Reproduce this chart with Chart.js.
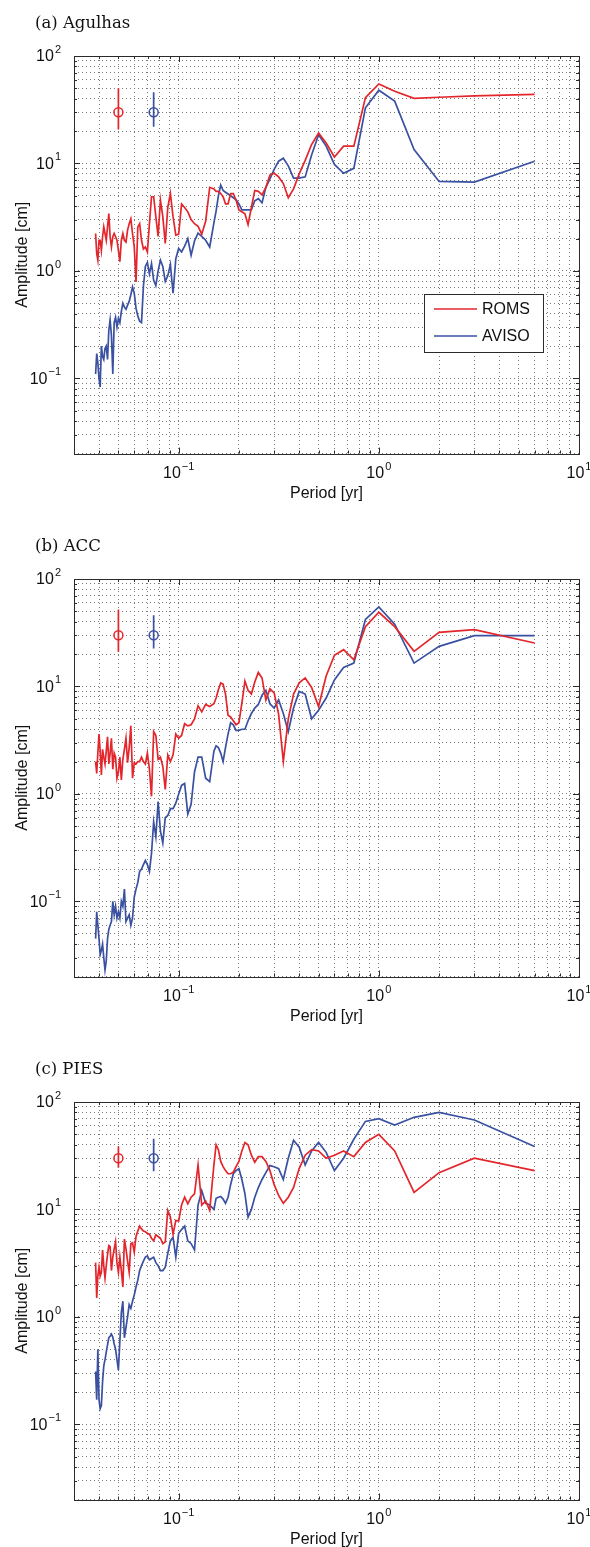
<!DOCTYPE html>
<html><head><meta charset="utf-8">
<script src="https://cdn.jsdelivr.net/npm/chart.js@4/dist/chart.umd.min.js"></script>
<style>
html,body{margin:0;padding:0;background:#fff;}
body{width:590px;height:1547px;position:relative;overflow:hidden;}
.panel{position:absolute;left:0;width:590px;height:505px;}
</style></head><body>
<div class="panel" style="top:0px"><canvas id="pa" width="590" height="505"></canvas></div>
<div class="panel" style="top:523px"><canvas id="pb" width="590" height="505"></canvas></div>
<div class="panel" style="top:1046px"><canvas id="pc" width="590" height="505"></canvas></div>
<script>
// ---- data: period [yr] (harmonics of a 6-yr record) ----
const periods = [6, 3, 2, 1.5, 1.2, 1, 0.8571, 0.75, 0.6667, 0.6,
 0.5455, 0.5, 0.4615, 0.4286, 0.4, 0.375, 0.3529, 0.3333, 0.3158, 0.3,
 0.2857, 0.2727, 0.2609, 0.25, 0.24, 0.2308, 0.2222, 0.2143, 0.2069, 0.2,
 0.1935, 0.1875, 0.1818, 0.1765, 0.1714, 0.1667, 0.1622, 0.1579, 0.1538, 0.15,
 0.1429, 0.1364, 0.1304, 0.125, 0.12, 0.1154, 0.1111, 0.1071, 0.1034, 0.1,
 0.09677, 0.09375, 0.09091, 0.08824, 0.08571, 0.08333, 0.08108, 0.07895, 0.07692, 0.075,
 0.07317, 0.07143, 0.06977, 0.06818, 0.06667, 0.06522, 0.06383, 0.0625, 0.06122, 0.06,
 0.05882, 0.05769, 0.0566, 0.05556, 0.05455, 0.05357, 0.05263, 0.05172, 0.05085, 0.05,
 0.04918, 0.04839, 0.04762, 0.04688, 0.04615, 0.04545, 0.04478, 0.04412, 0.04348, 0.04286,
 0.04225, 0.04167, 0.0411, 0.04054, 0.04, 0.03947, 0.03896, 0.03846];

const agulhasROMS = [44, 42.5, 41.3, 40.3, 47, 55, 41, 14.5, 14.5, 11.5,
 15.5, 19.2, 15, 10.7, 8.0, 5.8, 4.8, 6.5, 7.5, 8.1,
 7.8, 6.0, 5.1, 5.5, 5.6, 3.9, 2.7, 3.4, 3.55, 3.7,
 4.55, 5.25, 5.25, 4.2, 4.2, 4.9, 5.25, 5.5, 5.5, 5.8,
 6.0, 2.9, 2.2, 2.6, 2.75, 3.0, 3.55, 3.9, 4.2, 2.2,
 2.15, 3.2, 5.25, 3.9, 1.8, 3.2, 4.55, 2.1, 3.2, 4.9,
 4.9, 2.75, 1.5, 1.67, 1.6, 1.93, 2.75, 2.57, 0.79, 1.67,
 2.23, 3.05, 2.75, 2.4, 1.86, 1.93, 2.23, 1.93, 1.22, 1.55,
 1.93, 2.08, 2.23, 2.08, 1.67, 2.08, 3.42, 2.57, 1.93, 2.23,
 2.57, 2.08, 1.55, 1.93, 1.93, 1.26, 1.45, 2.23];
const agulhasAVISO = [10.5, 6.7, 6.8, 13.5, 38, 48, 33, 9.0, 8.1, 9.8,
 14.5, 18.5, 12, 7.5, 7.3, 7.3, 9.5, 11.2, 10.5, 8.8,
 7.2, 6.0, 4.3, 4.7, 4.5, 3.7, 3.7, 3.7, 3.7, 4.2,
 4.6, 4.8, 5.0, 5.2, 5.4, 5.6, 6.3, 5.0, 3.6, 2.8,
 1.67, 1.93, 2.1, 2.25, 1.9, 1.4, 2.0, 1.7, 1.5, 1.62,
 1.3, 0.62, 1.15, 0.9, 0.8, 1.1, 1.26, 1.0, 0.73, 0.82,
 1.17, 0.94, 1.2, 1.1, 0.72, 0.33, 0.34, 0.38, 0.45, 0.62,
 0.71, 0.6, 0.52, 0.48, 0.44, 0.46, 0.5, 0.42, 0.33, 0.36,
 0.3, 0.37, 0.33, 0.11, 0.25, 0.35, 0.28, 0.15, 0.2, 0.19,
 0.15, 0.16, 0.2, 0.083, 0.1, 0.14, 0.17, 0.11];

const accROMS = [25.4, 33.8, 31.9, 21.2, 36, 49, 36, 17.7, 22, 19.5,
 12.5, 6.5, 9.8, 12, 10.8, 8.5, 5.0, 2.0, 5.5, 8.7,
 9.5, 7.5, 12, 13.5, 11, 8.5, 9.2, 11.2, 7.0, 4.6,
 4.4, 4.8, 5.2, 5.4, 8.5, 10.5, 10.8, 9.3, 7.8, 6.9,
 6.5, 6.8, 5.8, 6.6, 5.0, 4.4, 4.3, 4.5, 3.5, 3.3,
 3.6, 2.3, 2.0, 2.3, 1.1, 1.8, 2.2, 2.1, 3.5, 3.8,
 0.95, 1.7, 2.4, 1.9, 2.0, 2.2, 2.0, 2.0, 1.9, 1.95,
 1.4, 4.3, 2.7, 1.95, 3.3, 2.6, 2.1, 1.35, 2.2, 1.6,
 1.4, 2.2, 2.4, 1.7, 3.3, 2.4, 1.9, 3.4, 2.5, 1.9,
 2.2, 2.6, 1.5, 2.5, 3.6, 2.4, 1.55, 2.0];
const accAVISO = [29.7, 29.7, 23.6, 16.5, 38, 55, 42, 16.5, 15, 11.5,
 7.8, 6.0, 5.0, 8.5, 9.0, 6.3, 3.8, 5.6, 7.5, 6.3,
 6.9, 9.2, 8.3, 6.8, 6.3, 5.6, 4.8, 4.0, 4.0, 3.9,
 3.9, 4.4, 4.6, 3.6, 2.7, 2.0, 2.4, 2.7, 2.8, 2.5,
 1.3, 1.4, 2.2, 2.2, 1.6, 0.8, 0.65, 1.25, 1.2, 1.0,
 0.82, 0.73, 0.73, 0.63, 0.6, 0.35, 0.45, 0.85, 0.4, 0.55,
 0.28, 0.19, 0.22, 0.24, 0.22, 0.2, 0.19, 0.15, 0.13, 0.11,
 0.07, 0.06, 0.075, 0.07, 0.065, 0.13, 0.09, 0.1, 0.07, 0.08,
 0.07, 0.09, 0.075, 0.1, 0.065, 0.06, 0.055, 0.045, 0.028, 0.023,
 0.03, 0.04, 0.035, 0.032, 0.045, 0.06, 0.08, 0.045];

const piesROMS = [23, 30, 22, 14.4, 35, 50, 42, 31, 35, 32,
 30, 35, 36, 32, 24, 16, 13, 11.4, 13.5, 17,
 23, 28, 31, 31, 27.5, 32, 40, 42, 35, 28,
 25, 22.2, 21.5, 21.5, 23, 25, 28, 36, 40, 26,
 9.8, 12, 11, 26, 14, 13, 11.3, 13, 11, 7.8,
 7.9, 5.9, 8.5, 9.8, 5.0, 4.8, 5.4, 5.6, 5.8, 5.1,
 5.4, 5.9, 6.0, 6.2, 6.3, 6.6, 7.0, 6.3, 5.6, 4.0,
 4.9, 4.8, 2.6, 3.3, 4.3, 5.3, 1.9, 2.7, 3.6, 2.6,
 3.2, 5.0, 4.3, 3.6, 2.7, 4.5, 4.6, 3.8, 3.0, 2.3,
 3.0, 4.2, 2.6, 2.4, 2.9, 2.4, 1.5, 3.2];
const piesAVISO = [38.6, 68, 80, 72, 61, 70, 66, 45, 30, 23,
 34, 42, 35, 26, 38, 44, 30, 19, 24, 25,
 25.6, 22, 19, 16, 13, 10, 8.5, 14, 19, 24,
 23, 21.5, 17, 13, 11.4, 12.5, 13.2, 13, 12.7, 10,
 11, 11.4, 15, 11, 4.2, 4.8, 5.1, 7.0, 6.5, 6.0,
 3.6, 5.5, 5.1, 3.9, 2.9, 2.7, 2.7, 3.0, 3.2, 3.6,
 3.5, 3.4, 3.7, 3.6, 3.3, 3.0, 2.7, 2.2, 1.9, 1.6,
 1.4, 1.2, 1.3, 1.0, 0.8, 0.64, 1.4, 1.1, 0.6, 0.32,
 0.4, 0.5, 0.56, 0.65, 0.69, 0.66, 0.64, 0.55, 0.47, 0.4,
 0.35, 0.25, 0.15, 0.14, 0.17, 0.5, 0.17, 0.31];

// error bar markers: period position, centre and range [low, high]
const errPeriods = [0.05, 0.075];
const errCenter = 30;
const agulhasErrROMS = [20.7, 50], agulhasErrAVISO = [22, 46];
const accErrROMS = [21, 52], accErrAVISO = [22.6, 46];
const piesErrROMS = [24.4, 38.6], piesErrAVISO = [22.7, 45.5];

// axis ticks
const xTickValues = [0.03,0.04,0.05,0.06,0.07,0.08,0.09,0.1,0.2,0.3,0.4,0.5,0.6,0.7,0.8,0.9,1,2,3,4,5,6,7,8,9,10];
const yTickValues = [0.02,0.03,0.04,0.05,0.06,0.07,0.08,0.09,0.1,0.2,0.3,0.4,0.5,0.6,0.7,0.8,0.9,1,2,3,4,5,6,7,8,9,10,20,30,40,50,60,70,80,90,100];
const xMajor = [0.1, 1, 10], xMajorExp = ['\u22121', '0', '1'];
const yMajor = [0.1, 1, 10, 100], yMajorExp = ['\u22121', '0', '1', '2'];
const seriesNames = ['ROMS', 'AVISO'];

// ---- drawing ----
const RED = '#e3262c', BLUE = '#3a51a2';
const BASEFONT = "16px 'Liberation Sans', Arial, sans-serif";
const EXPFONT = "11px 'Liberation Sans', Arial, sans-serif";

function drawPow(ctx, exp, ax, y, align) {
  ctx.font = BASEFONT; const wb = ctx.measureText('10').width;
  ctx.font = EXPFONT; const we = ctx.measureText(exp).width;
  const x0 = align === 'right' ? ax - wb - we - 1 : ax - (wb + we + 1) / 2;
  ctx.textAlign = 'left'; ctx.textBaseline = 'middle';
  ctx.font = BASEFONT; ctx.fillText('10', x0, y);
  ctx.font = EXPFONT; ctx.fillText(exp, x0 + wb + 1, y - 7);
}

const deco = {
  id: 'deco',
  afterDraw(chart, args, opts) {
    const ctx = chart.ctx, a = chart.chartArea, xs = chart.scales.x, ys = chart.scales.y;
    ctx.save();
    ctx.fillStyle = '#111'; ctx.strokeStyle = '#2a2a2a'; ctx.lineWidth = 1;
    // tick marks (inside, all four sides)
    ctx.beginPath();
    xTickValues.forEach(v => {
      const px = Math.round(xs.getPixelForValue(v)) + 0.5;
      const len = xMajor.includes(v) ? 6 : 3;
      ctx.moveTo(px, a.bottom); ctx.lineTo(px, a.bottom - len);
      ctx.moveTo(px, a.top); ctx.lineTo(px, a.top + len);
    });
    yTickValues.forEach(v => {
      const py = Math.round(ys.getPixelForValue(v)) + 0.5;
      const len = yMajor.includes(v) ? 6 : 3;
      ctx.moveTo(a.left, py); ctx.lineTo(a.left + len, py);
      ctx.moveTo(a.right, py); ctx.lineTo(a.right - len, py);
    });
    ctx.stroke();
    // frame
    ctx.strokeRect(Math.round(a.left) + 0.5, Math.round(a.top) + 0.5, Math.round(a.right - a.left), Math.round(a.bottom - a.top));
    // tick labels
    xMajor.forEach((v, i) => drawPow(ctx, xMajorExp[i], xs.getPixelForValue(v), a.bottom + 20.5, 'center'));
    yMajor.forEach((v, i) => drawPow(ctx, yMajorExp[i], 61, ys.getPixelForValue(v) + 1, 'right'));
    // axis titles
    ctx.font = BASEFONT; ctx.textAlign = 'center'; ctx.textBaseline = 'middle';
    ctx.fillText('Period [yr]', (a.left + a.right) / 2, a.bottom + 40);
    ctx.save(); ctx.translate(22.5, (a.top + a.bottom) / 2); ctx.rotate(-Math.PI / 2);
    ctx.fillText('Amplitude [cm]', 0, 0); ctx.restore();
    // panel title
    ctx.font = "16.5px 'DejaVu Serif', serif"; ctx.textAlign = 'left'; ctx.textBaseline = 'alphabetic';
    ctx.fillText(opts.title, 35, 28);
    // legend
    if (opts.legend) {
      const bx = a.right - 155, by = 294, bw = 119, bh = 58;
      ctx.fillStyle = '#fff'; ctx.fillRect(bx, by, bw, bh);
      ctx.strokeStyle = '#2a2a2a'; ctx.strokeRect(bx + 0.5, by + 0.5, bw, bh);
      [RED, BLUE].forEach((c, i) => {
        const ly = by + 15 + i * 27;
        ctx.strokeStyle = c; ctx.lineWidth = 1.7;
        ctx.beginPath(); ctx.moveTo(bx + 10, ly); ctx.lineTo(bx + 53, ly); ctx.stroke();
        ctx.fillStyle = '#111'; ctx.font = BASEFONT; ctx.textBaseline = 'middle';
        ctx.fillText(seriesNames[i], bx + 58, ly + 1);
      });
    }
    ctx.restore();
  }
};

function line(vals, color) {
  return { data: periods.map((p, i) => ({ x: p, y: vals[i] })), borderColor: color, borderWidth: 1.7,
           pointRadius: 0, tension: 0, fill: false };
}
function bar(xv, range, color) {
  return { data: [{ x: xv, y: range[0] }, { x: xv, y: range[1] }], borderColor: color, borderWidth: 1.7,
           pointRadius: 0, fill: false };
}
function marker(xv, color) {
  return { data: [{ x: xv, y: errCenter }], showLine: false, pointRadius: 4.5, pointStyle: 'circle',
           pointBorderColor: color, pointBackgroundColor: 'rgba(0,0,0,0)', pointBorderWidth: 1.5, borderColor: color };
}

function makePanel(id, title, roms, aviso, errR, errA, legend) {
  new Chart(document.getElementById(id), {
    type: 'line',
    data: { datasets: [
      line(roms, RED), line(aviso, BLUE),
      bar(errPeriods[0], errR, RED), bar(errPeriods[1], errA, BLUE),
      marker(errPeriods[0], RED), marker(errPeriods[1], BLUE)
    ] },
    options: {
      responsive: false, animation: false, events: [],
      layout: { padding: { left: 0, right: 11, top: 56, bottom: 11.5 } },
      plugins: { legend: { display: false }, tooltip: { enabled: false }, title: { display: false },
                 deco: { title: title, legend: legend } },
      scales: {
        x: { type: 'logarithmic', min: 0.03, max: 10,
             afterBuildTicks: s => { s.ticks = xTickValues.map(v => ({ value: v })); },
             afterFit: s => { s.height = 40; },
             ticks: { display: false },
             grid: { color: '#7a7a7a', lineWidth: 1, drawTicks: false },
             border: { display: false, dash: [1, 3] } },
        y: { type: 'logarithmic', min: 0.02, max: 100,
             afterBuildTicks: s => { s.ticks = yTickValues.map(v => ({ value: v })); },
             afterFit: s => { s.width = 74; },
             ticks: { display: false },
             grid: { color: '#7a7a7a', lineWidth: 1, drawTicks: false },
             border: { display: false, dash: [1, 3] } }
      }
    },
    plugins: [deco]
  });
}

makePanel('pa', '(a) Agulhas', agulhasROMS, agulhasAVISO, agulhasErrROMS, agulhasErrAVISO, true);
makePanel('pb', '(b) ACC', accROMS, accAVISO, accErrROMS, accErrAVISO, false);
makePanel('pc', '(c) PIES', piesROMS, piesAVISO, piesErrROMS, piesErrAVISO, false);
</script>
</body></html>
